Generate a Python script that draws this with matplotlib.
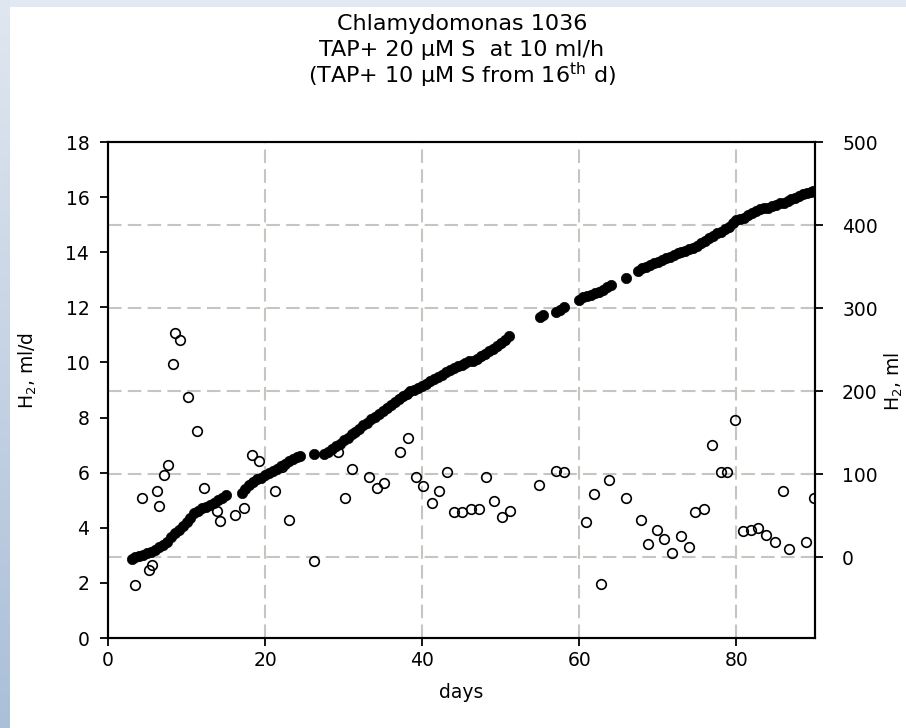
import numpy as np
import matplotlib
matplotlib.use("Agg")
import matplotlib.pyplot as plt

plt.rcParams['font.family'] = ['DejaVu Sans']
plt.rcParams['mathtext.default'] = 'regular'

# Daily H2 production rate (left axis, ml/d)
rate_days = [3.4, 4.3, 5.2, 5.6, 6.3, 6.5, 7.1, 7.6, 8.25, 8.5, 9.2, 10.2, 11.3,
             12.2, 13.9, 14.3, 16.2, 17.3, 18.3, 19.2, 21.2, 22.2, 23.1, 26.2,
             29.3, 30.2, 31.1, 33.2, 34.3, 35.1, 37.2, 38.2, 39.2, 40.1, 41.2,
             42.1, 43.1, 44.0, 45.0, 46.2, 47.2, 48.1, 49.1, 50.1, 51.2, 54.9,
             57.0, 58.0, 60.8, 61.9, 62.8, 63.8, 65.9, 67.8, 68.8, 69.9, 70.8,
             71.8, 72.9, 73.9, 74.7, 75.9, 76.9, 78.0, 78.8, 79.8, 80.8, 81.9,
             82.8, 83.8, 84.9, 85.9, 86.7, 88.8, 89.9]
rate_ml_d = [1.92, 5.08, 2.45, 2.65, 5.35, 4.78, 5.93, 6.28, 9.95, 11.08, 10.81,
             8.75, 7.53, 5.43, 4.60, 4.23, 4.47, 4.70, 6.65, 6.44, 5.32, 6.20,
             4.29, 2.78, 6.75, 5.08, 6.15, 5.83, 5.44, 5.62, 6.74, 7.26, 5.83,
             5.50, 4.90, 5.32, 6.02, 4.59, 4.59, 4.68, 4.68, 5.83, 4.98, 4.38,
             4.62, 5.54, 6.05, 6.02, 4.20, 5.24, 1.96, 5.74, 5.08, 4.29, 3.41,
             3.93, 3.59, 3.10, 3.71, 3.30, 4.59, 4.69, 7.02, 6.02, 6.02, 7.90,
             3.90, 3.93, 3.99, 3.75, 3.50, 5.32, 3.22, 3.50, 5.08]

# Cumulative H2 (right axis, ml)
cum_days = [3.0, 3.5, 4.0, 4.5, 5.0, 5.5, 6.0, 6.5, 7.0, 7.5, 8.0, 8.5, 9.0,
            9.5, 10.0, 10.5, 11.0, 11.5, 12.0, 12.5, 13.0, 13.5, 14.0, 14.5, 15.0,
            17.0, 17.5, 18.0, 18.5, 19.0, 19.5, 20.0, 20.5, 21.0, 21.5, 22.0,
            22.5, 23.0, 23.5, 24.0, 24.5,
            26.2,
            27.5, 28.0, 28.5, 29.0, 29.5, 30.0, 30.5, 31.0, 31.5, 32.0, 32.5,
            33.0, 33.5, 34.0, 34.5, 35.0, 35.5, 36.0, 36.5, 37.0, 37.5, 38.0,
            38.5, 39.0, 39.5, 40.0, 40.5, 41.0, 41.5, 42.0, 42.5, 43.0, 43.5,
            44.0, 44.5, 45.0, 45.5, 46.0, 46.5, 47.0, 47.5, 48.0, 48.5, 49.0,
            49.5, 50.0, 50.5, 51.0,
            55.0, 55.4, 57.0, 57.5, 58.0,
            60.0, 60.5, 61.0, 61.5, 62.0, 62.5, 63.0, 63.5, 64.0,
            65.9,
            67.5, 68.0, 68.5, 69.0, 69.5, 70.0, 70.5, 71.0, 71.5, 72.0, 72.5,
            73.0, 73.5, 74.0, 74.5, 75.0, 75.5, 76.0, 76.5, 77.0, 77.5, 78.0,
            78.5, 79.0, 79.5, 80.0, 80.5, 81.0, 81.5, 82.0, 82.5, 83.0, 83.5,
            84.0, 84.5, 85.0, 85.5, 86.0, 86.5, 87.0, 87.5, 88.0, 88.5, 89.0,
            89.5, 89.8]
cum_h2_ml = [-2, 0, 2, 3, 5, 7, 9, 12, 15, 19, 24, 29, 33, 38, 43, 48, 53, 56,
             59, 61, 63, 66, 69, 72, 75,
             77, 82, 87, 91, 94, 96, 99, 101, 104, 107, 110, 113, 116, 118, 121,
             122,
             124,
             125, 127, 130, 134, 137, 141, 144, 148, 151, 155, 159, 162, 166,
             169, 173, 176, 180, 183, 187, 191, 194, 197, 200, 202, 204, 206,
             209, 212, 215, 217, 220, 223, 226, 228, 230, 232, 234, 236, 237,
             239, 242, 245, 248, 251, 254, 258, 262, 266,
             289, 292, 295, 298, 301,
             310, 313, 315, 316, 318, 320, 322, 325, 328,
             336,
             345, 348, 350, 352, 354, 356, 358, 360, 362, 364, 366, 367, 369,
             371, 373, 375, 378, 381, 384, 387, 390, 392, 395, 398, 403, 406,
             407, 409, 412, 415, 417, 419, 420, 421, 423, 424, 426, 427, 429,
             431, 433, 435, 437, 439, 440, 441]

left_ticks = list(range(0, 19, 2))
right_ticks = list(range(0, 501, 100))
x_ticks = list(range(0, 81, 20))

fig = plt.figure(figsize=(9.06, 7.28), dpi=100, facecolor='white')

# Pale blue frame strips along the top and left edges
strip_top = fig.add_axes([0, 1 - 7 / 728, 1, 7 / 728])
strip_top.set_axis_off()
strip_top.imshow(np.ones((1, 2, 3)) * np.array([0.89, 0.915, 0.95]),
                 aspect='auto', extent=[0, 1, 0, 1])
strip_left = fig.add_axes([0, 0, 10 / 906, 1])
strip_left.set_axis_off()
grad = np.linspace(0, 1, 256)[:, None]
top_c = np.array([0.88, 0.905, 0.94])
bot_c = np.array([0.67, 0.75, 0.85])
strip_left.imshow(top_c * (1 - grad[..., None]) + bot_c * grad[..., None],
                  aspect='auto', extent=[0, 1, 0, 1])

ax = fig.add_axes([108 / 906, 90 / 728, 707 / 906, 496 / 728])
ax2 = ax.twinx()
ax.set_zorder(2)
ax.patch.set_visible(False)
ax2.set_zorder(1)
ax2.patch.set_visible(True)
ax2.patch.set_facecolor('white')

ax.set_xlim(0, 90)
ax.set_ylim(0, 18)
ax2.set_ylim(-97, 500)
ax.set_xticks(x_ticks)
ax.set_yticks(left_ticks)
ax2.set_yticks(right_ticks)

grid_kw = dict(color='#c8c4c0', lw=1.5, ls=(0, (6.5, 3)), zorder=0)
for t in right_ticks[:-1]:
    ax2.axhline(t, **grid_kw)
for t in x_ticks[1:]:
    ax2.axvline(t, **grid_kw)

ax2.plot(cum_days, cum_h2_ml, ls='none', marker='o', ms=7.4,
         mfc='black', mec='black', mew=0.5, zorder=3)
ax.plot(rate_days, rate_ml_d, ls='none', marker='o', ms=6.9,
        mfc='none', mec='black', mew=1.2, zorder=3)

for a in (ax, ax2):
    for s in a.spines.values():
        s.set_linewidth(1.5)
        s.set_color('black')

ax.tick_params(axis='y', direction='out', length=5.5, width=1.3,
               labelsize=13.5, pad=8)
ax.tick_params(axis='x', direction='out', length=5.5, width=1.3,
               labelsize=13.5, pad=3.5)
ax2.tick_params(axis='y', direction='out', length=5.5, width=1.3,
                labelsize=13.5, pad=14)

ax.set_xlabel('days', fontsize=13.5, labelpad=10)
fig.text(28 / 906, 1 - 370 / 728, 'H$_2$, ml/d', rotation=90,
         ha='center', va='center', fontsize=13.5)
fig.text(905 / 906, 1 - 382 / 728, 'H$_2$, ml', rotation=90,
         ha='right', va='center', fontsize=13.5)

fig.text(0.51, 1 - 24 / 728, 'Chlamydomonas 1036', ha='center',
         va='center', fontsize=16)
fig.text(0.51, 1 - 50 / 728, 'TAP+ 20 µM S  at 10 ml/h', ha='center',
         va='center', fontsize=16)
fig.text(0.51, 1 - 75 / 728, '(TAP+ 10 µM S from 16$^{th}$ d)', ha='center',
         va='center', fontsize=16)

fig.savefig('out.png', dpi=100, facecolor='white')
